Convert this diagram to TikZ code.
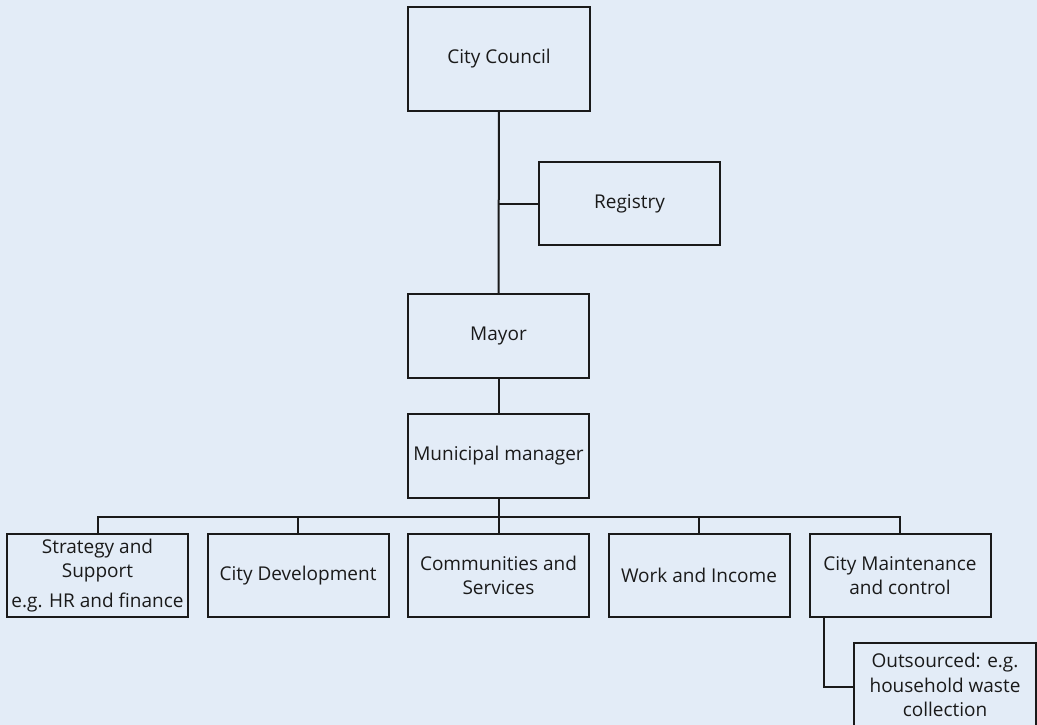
\documentclass[tikz,border=0pt]{standalone}
\usepackage{fontspec}
\setmainfont{Open Sans}
\definecolor{pagebg}{HTML}{E3ECF7}
\definecolor{ink}{HTML}{1A1A1A}
\begin{document}
\begin{tikzpicture}[x=1pt,y=-1pt,
  orgbox/.style={draw=ink,line width=2pt,fill=pagebg,inner sep=1pt,
    minimum width=181pt,minimum height=83pt,align=center,
    font=\fontsize{19}{24.5}\selectfont,text=ink},
  link/.style={draw=ink,line width=2pt}]
  % page background and frame
  \fill[pagebg] (0,0) rectangle (1037,725);
  \useasboundingbox (0,0) rectangle (1037,725);
  \clip (0,0) rectangle (1037,725);

  % top of the hierarchy
  \node[orgbox,minimum width=182pt,minimum height=104pt] (council) at (499,59) {City Council};
  \node[orgbox] (registry) at (629.5,203.5) {Registry};
  \node[orgbox,minimum height=84pt] (mayor) at (498.5,336) {Mayor};
  \node[orgbox,minimum height=84pt] (manager) at (498.5,456) {Municipal manager};

  % departments
  \node[orgbox] (strategy) at (97.5,575.5) {Strategy and\\Support\\[5pt]e.g. HR and finance};
  \node[orgbox] (citydev) at (298,575.5) {City Development};
  \node[orgbox] (communities) at (498.5,575.5) {Communities and\\Services};
  \node[orgbox] (work) at (699,575.5) {Work and Income};
  \node[orgbox] (maint) at (900,575.5) {City Maintenance\\and control};
  \node[orgbox,minimum width=182pt,minimum height=84pt] (outsourced) at (945,685)
    {Outsourced: e.g.\\household waste\\collection};

  % connectors
  \coordinate (bus) at (498.5,517);
  \draw[link] (council) -- (mayor);
  \draw[link] (registry.west) -- (registry.west -| council.south);
  \draw[link] (mayor) -- (manager);
  \draw[link] (manager) -- (bus);
  \draw[link,line cap=rect] (strategy.north |- bus) -- (maint.north |- bus);
  \foreach \d in {strategy,citydev,communities,work,maint}
    \draw[link] (\d.north) -- (\d.north |- bus);
  \draw[link] ([xshift=15pt]maint.south west) |- ([yshift=-2pt]outsourced.west);
\end{tikzpicture}
\end{document}
